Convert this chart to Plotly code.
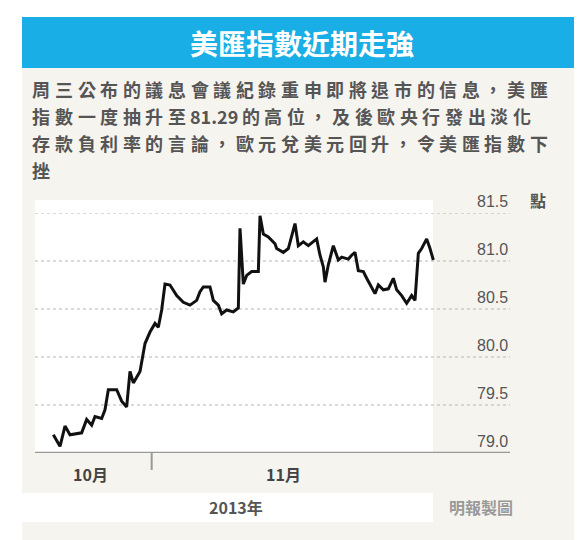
import plotly.graph_objects as go

W, H = 582, 540
# time position (arbitrary trading-time units) and index values
t = [70,90,105,120,155,170,185,195,215,225,235,260,275,290,300,310,330,345,360,375,385,395,405,420,440,460,480,500,510,520,540,550,565,575,590,610,625,630,640,650,665,685,690,700,715,735,740,760,775,795,805,820,835,860,870,880,885,895,910,925,935,955,965,975,985,1000,1010,1025,1035,1045,1060,1075,1090,1100,1115,1130,1145,1155,1165,1175,1190,1200,1210]
v = [79.19,79.07,79.28,79.19,79.21,79.35,79.29,79.38,79.36,79.45,79.66,79.66,79.54,79.48,79.85,79.73,79.85,80.14,80.26,80.35,80.31,80.49,80.76,80.75,80.64,80.57,80.54,80.59,80.68,80.73,80.73,80.59,80.54,80.45,80.49,80.47,80.51,81.34,80.76,80.85,80.89,80.89,81.47,81.28,81.25,81.18,81.13,81.09,81.13,81.39,81.16,81.20,81.16,81.23,81.06,80.94,80.78,80.96,81.16,81.01,81.04,81.02,81.06,81.09,80.90,80.89,80.82,80.73,80.66,80.75,80.70,80.71,80.82,80.70,80.64,80.56,80.64,80.59,81.08,81.13,81.23,81.13,81.01]
yticks = [79.0, 79.5, 80.0, 80.5, 81.0, 81.5]
ytick_labels = ["79.0", "79.5", "80.0", "80.5", "81.0", "81.5"]
months = ["10月", "11月"]
month_pos = [180, 760]
title = "美匯指數近期走強"
body = ["周三公布的議息會議紀錄重申即將退市的信息，美匯",
        "指數一度抽升至81.29的高位，及後歐央行發出淡化",
        "存款負利率的言論，歐元兌美元回升，令美匯指數下",
        "挫"]

FONT = "Noto Sans CJK TC"
OFF = 8  # page margin compensation
def px(x): return (x - OFF) / W
def py(y): return 1 - (y - OFF) / H

fig = go.Figure()
fig.add_trace(go.Scatter(x=t, y=v, mode="lines", line=dict(color="#111", width=3),
                         hoverinfo="skip", showlegend=False))

shapes = [
    dict(type="rect", xref="paper", yref="paper", x0=px(22), x1=1, y0=0, y1=py(68),
         fillcolor="#f6f4ef", line_width=0, layer="below"),
    dict(type="rect", xref="paper", yref="paper", x0=px(22), x1=1, y0=py(68), y1=py(17),
         fillcolor="#1aaee6", line_width=0, layer="below"),
    dict(type="rect", xref="paper", yref="paper", x0=px(35), x1=px(433), y0=py(453), y1=py(200),
         fillcolor="white", line_width=0, layer="below"),
    dict(type="rect", xref="paper", yref="paper", x0=px(22), x1=px(433), y0=py(522), y1=py(493),
         fillcolor="white", line_width=0, layer="below"),
]
for yv in yticks[1:]:
    shapes.append(dict(type="line", xref="x", yref="y", x0=15, x1=1440, y0=yv, y1=yv,
                       line=dict(color="#b5b5b5", width=1.2, dash="dot"), layer="below"))
shapes.append(dict(type="line", xref="x", yref="y", x0=15, x1=1440, y0=79.0, y1=79.0,
                   line=dict(color="#999", width=2.5)))
shapes.append(dict(type="line", xref="x", yref="paper", x0=365, x1=365, y0=py(470), y1=py(453),
                   line=dict(color="#999", width=2)))

ann = [dict(text="<b>" + title + "</b>", x=px(302), y=py(43), xref="paper", yref="paper",
            yanchor="middle", showarrow=False, font=dict(family=FONT, size=28, color="white"))]
# body text: split into CJK-width cells (digits/points take half cells) to mimic the wide tracking
CELL = 22.6
for i, line in enumerate(body):
    xpos = 30.0
    seg = ""
    segs = []
    for ch in line:
        if ch.isascii():
            seg += ch
        else:
            if seg:
                segs.append(seg); seg = ""
            segs.append(ch)
    if seg:
        segs.append(seg)
    for s in segs:
        wcell = CELL if not s.isascii() else len(s) * 10.2
        ann.append(dict(text="<b>" + s + "</b>", x=px(xpos + wcell / 2), y=py(89 + 27 * i),
                        xref="paper", yref="paper", xanchor="center", yanchor="middle",
                        showarrow=False, font=dict(family=FONT, size=18, color="#555")))
        xpos += wcell
for yv, lab in zip(yticks, ytick_labels):
    ann.append(dict(text=lab, x=1440, y=yv, xref="x", yref="y", xanchor="right", yanchor="bottom",
                    yshift=1, showarrow=False, font=dict(family="Liberation Sans", size=16, color="#555")))
ann.append(dict(text="<b>點</b>", x=px(548), y=py(200), xref="paper", yref="paper", yanchor="middle",
                showarrow=False, font=dict(family=FONT, size=16, color="#555")))
for m, p in zip(months, month_pos):
    ann.append(dict(text="<b>" + m + "</b>", x=p, y=py(474), xref="x", yref="paper", yanchor="middle",
                    showarrow=False, font=dict(family=FONT, size=16, color="#444")))
ann.append(dict(text="<b>2013年</b>", x=px(236), y=py(507), xref="paper", yref="paper", yanchor="middle",
                showarrow=False, font=dict(family=FONT, size=16, color="#555")))
ann.append(dict(text="<b>明報製圖</b>", x=px(515), y=py(507), xref="paper", yref="paper", yanchor="middle",
                showarrow=False, font=dict(family=FONT, size=16, color="#999")))

fig.update_layout(width=W, height=H, margin=dict(l=0, r=0, t=0, b=0),
                  paper_bgcolor="white", plot_bgcolor="rgba(0,0,0,0)",
                  shapes=shapes, annotations=ann,
                  xaxis=dict(domain=[px(35), px(510)], range=[15, 1440], visible=False, fixedrange=True),
                  yaxis=dict(domain=[py(453), py(213)], range=[79.0, 81.5], visible=False, fixedrange=True))
fig.write_html("out.html")
